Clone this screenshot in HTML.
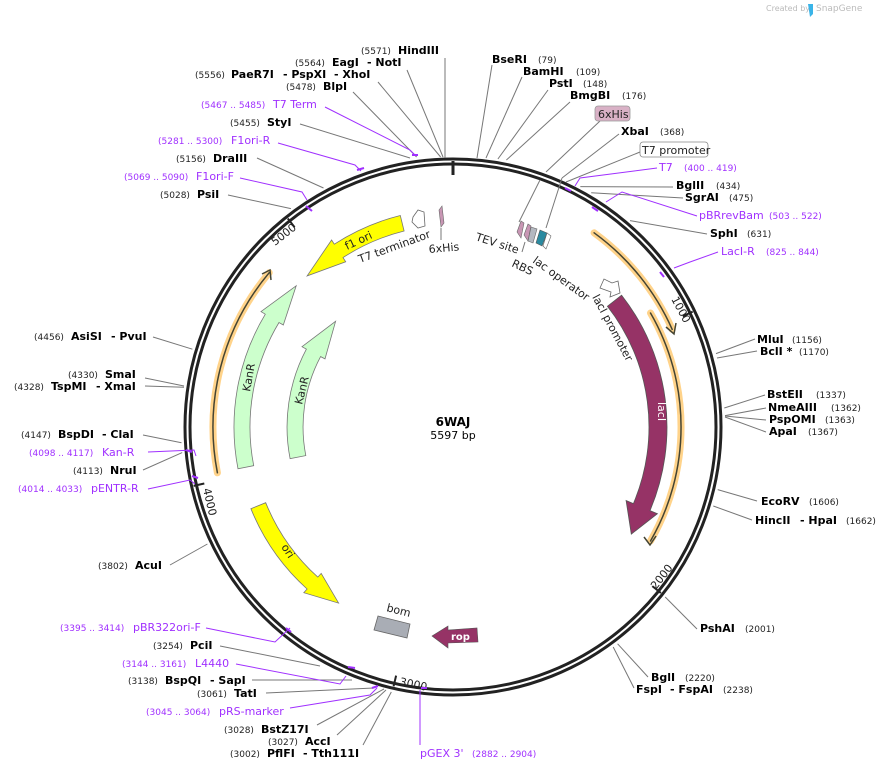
<!DOCTYPE html>
<html><head><meta charset="utf-8"><style>
html,body{margin:0;padding:0;background:#fff}
svg{display:block}
text{font-family:"DejaVu Sans","Liberation Sans",sans-serif}
.b{font-weight:bold;font-size:11px;fill:#000}
.n{font-size:9px;fill:#222}
.p{font-size:11px;fill:#a030ff}
.pn{font-size:9px;fill:#a030ff}
.f{font-size:11px;fill:#222}
.g{stroke:#777;stroke-width:1;fill:none}
.pl{stroke:#a030ff;stroke-width:1;fill:none}
</style></head><body>
<svg width="892" height="770" viewBox="0 0 892 770" xmlns="http://www.w3.org/2000/svg">
<text x="766" y="11" style="font-size:8px;fill:#bbb">Created by</text>
<path d="M808 4 h5 v10 l-3 3 z" fill="#3ab4e8"/>
<text x="816" y="11" style="font-size:9px;fill:#bbb">SnapGene</text>

<circle cx="453" cy="427" r="268" fill="none" stroke="#222" stroke-width="3"/>
<circle cx="453" cy="427" r="263" fill="none" stroke="#222" stroke-width="3"/>
<line x1="453" y1="161" x2="453" y2="175" stroke="#222" stroke-width="3"/>

<g stroke="#222" stroke-width="2">
<line x1="692.7" y1="311.6" x2="682.8" y2="316.3"/>
<line x1="660.9" y1="593" x2="652.3" y2="586.1"/>
<line x1="393.6" y1="686.3" x2="396.1" y2="675.6"/>
<line x1="193.6" y1="485.9" x2="204.3" y2="483.5"/>
<line x1="287.8" y1="218.5" x2="294.6" y2="227.2"/>
</g>
<text class="f" transform="translate(671,299) rotate(62)">1000</text>
<text class="f" transform="translate(656,590) rotate(-52)">2000</text>
<text class="f" transform="translate(399,685) rotate(12)">3000</text>
<text class="f" transform="translate(203,489) rotate(77)">4000</text>
<text class="f" transform="translate(275,246) rotate(-38)">5000</text>

<g fill="none" stroke-linecap="round">
<path d="M594.1 232.8 A240 240 0 0 1 672.2 329.4" stroke="#ffd38a" stroke-width="7"/>
<path d="M594.1 232.8 A240 240 0 0 1 672.2 329.4" stroke="#443" stroke-width="1.5"/>
<path d="M650.5 313 A228 228 0 0 1 650.5 541" stroke="#ffd38a" stroke-width="7"/>
<path d="M650.5 313 A228 228 0 0 1 650.5 541" stroke="#443" stroke-width="1.5"/>
<path d="M217.4 472.8 A240 240 0 0 1 269.2 272.7" stroke="#ffd38a" stroke-width="7"/>
<path d="M217.4 472.8 A240 240 0 0 1 269.2 272.7" stroke="#443" stroke-width="1.5"/>
</g>
<path d="M666 327 L674 334 L676 323" fill="none" stroke="#443" stroke-width="1.5"/>
<path d="M644 537 L650 545 L656 536" fill="none" stroke="#443" stroke-width="1.5"/>
<path d="M262 274 L270 270 L271 280" fill="none" stroke="#443" stroke-width="1.5"/>

<path d="M621.6 295.2 A214 214 0 0 1 650 510.6 L657.4 513.7 L631.3 534.1 L626.1 500.5 L633.4 503.6 A196 196 0 0 0 607.4 306.3 Z" fill="#963366" stroke="#555" stroke-width="0.8"/>
<text transform="translate(658,402) rotate(90)" style="font-size:11px;fill:#fff">lacI</text>
<path d="M600 288 L604 279 L612 283 L618 281 L620 293 L610 297 L611 292 Z" fill="#fff" stroke="#666" stroke-width="0.8"/>
<text class="f" transform="translate(592,297) rotate(62)">lacI promoter</text>

<path d="M238 468.8 A219 219 0 0 1 265.3 314.2 L261 311.6 L296.2 285.8 L283.3 325 L279 322.5 A203 203 0 0 0 253.7 465.7 Z" fill="#ccffcc" stroke="#777" stroke-width="0.8"/>
<text class="f" transform="translate(250,392) rotate(-80)">KanR</text>
<path d="M290.1 458.7 A166 166 0 0 1 306.4 349.1 L302 346.7 L335.6 321.3 L325 358.9 L320.6 356.6 A150 150 0 0 0 305.8 455.6 Z" fill="#ccffcc" stroke="#777" stroke-width="0.8"/>
<text class="f" transform="translate(302,405) rotate(-76)">KanR</text>

<path d="M400.3 215.5 A218 218 0 0 0 334.3 244.2 L331.6 240 L307.1 275.9 L345.7 261.8 L343 257.6 A202 202 0 0 1 404.1 231 Z" fill="#ffff00" stroke="#777" stroke-width="0.8"/>
<text class="f" transform="translate(347,250) rotate(-25)">f1 ori</text>
<text class="f" transform="translate(360,263) rotate(-20)">T7 terminator</text>
<path d="M250.9 508.7 A218 218 0 0 0 307.1 589 L303.8 592.7 L338.6 603.1 L321.2 573.4 L317.8 577.1 A202 202 0 0 1 265.7 502.7 Z" fill="#ffff00" stroke="#777" stroke-width="0.8"/>
<text class="f" transform="translate(281,547) rotate(57)">ori</text>

<polygon points="378,616 410,624 407,638 374,630" fill="#a9adb5" stroke="#666" stroke-width="0.8"/>
<text class="f" transform="translate(386,611) rotate(14)">bom</text>
<polygon points="432,636 448,626 448,630 477,628 478,642 448,643 448,648" fill="#963366" stroke="#555" stroke-width="0.6"/>
<text x="451" y="640" style="font-size:10px;font-weight:bold;fill:#fff">rop</text>

<path d="M413 217 L418 210 L424 212 L425 226 L418 228 L412 222 Z" fill="#fff" stroke="#666" stroke-width="0.8"/>
<path d="M439 210 L442 206 L444 223 L441 227 Z" fill="#c896b4" stroke="#666" stroke-width="0.6"/>
<line x1="441" y1="228" x2="441" y2="240" class="g"/>
<text class="f" transform="translate(429,253) rotate(-5)">6xHis</text>
<path d="M517 232 L521 221 L524 223 L521 238 Z" fill="#c896b4" stroke="#666" stroke-width="0.6"/>
<path d="M524 235 L528 224 L531 226 L528 241 Z" fill="#c896b4" stroke="#666" stroke-width="0.6"/>
<polygon points="531,227 537,229 533,243 528,241" fill="#b4b8c0" stroke="#666" stroke-width="0.6"/>
<polygon points="540,230 547,233 542,246 536,243" fill="#2a8aa0" stroke="#555" stroke-width="0.6"/>
<polygon points="547,233 551,236 546,249 543,246" fill="#fff" stroke="#666" stroke-width="0.6"/>
<line x1="525" y1="242" x2="522" y2="252" class="g"/>
<text class="f" transform="translate(475,240) rotate(18)">TEV site</text>
<text class="f" transform="translate(511,266) rotate(25)">RBS</text>
<text class="f" transform="translate(532,262) rotate(36)">lac operator</text>

<text x="453" y="426" text-anchor="middle" style="font-size:12px;font-weight:bold">6WAJ</text>
<text x="453" y="439" text-anchor="middle" style="font-size:11px">5597 bp</text>

<g class="g">
<line x1="445" y1="58" x2="445" y2="158"/>
<line x1="407" y1="70" x2="443" y2="157"/>
<line x1="378" y1="82" x2="440.6" y2="157"/>
<line x1="353" y1="92" x2="416.6" y2="157"/>
<line x1="300" y1="124" x2="410" y2="158"/>
<line x1="257" y1="158" x2="323.5" y2="188"/>
<line x1="228" y1="195" x2="290.9" y2="208.6"/>
<line x1="492" y1="65" x2="477" y2="158"/>
<line x1="522" y1="77" x2="486" y2="158"/>
<line x1="548" y1="90" x2="497.9" y2="159"/>
<line x1="570" y1="102" x2="506.4" y2="160"/>
<line x1="600" y1="121" x2="546" y2="172"/>
<line x1="540" y1="180" x2="519" y2="222"/>
<line x1="619" y1="134" x2="562" y2="178"/>
<line x1="562" y1="178" x2="546" y2="228"/>
<line x1="640" y1="152" x2="566" y2="182"/>
<line x1="673" y1="187" x2="580.3" y2="186.6"/>
<line x1="683" y1="198" x2="591.2" y2="192.8"/>
<line x1="707" y1="234" x2="630" y2="220.6"/>
<line x1="755" y1="339" x2="716" y2="353.6"/>
<line x1="757" y1="351" x2="717" y2="358"/>
<line x1="765" y1="395" x2="724.3" y2="408"/>
<line x1="766" y1="408" x2="725" y2="415.6"/>
<line x1="766" y1="420" x2="725" y2="416"/>
<line x1="766" y1="432" x2="725" y2="417"/>
<line x1="757" y1="501" x2="717.7" y2="489.6"/>
<line x1="752" y1="520" x2="713.3" y2="506"/>
<line x1="697" y1="629" x2="665.2" y2="597"/>
<line x1="648" y1="677" x2="617.6" y2="643.8"/>
<line x1="634" y1="688" x2="613.2" y2="647"/>
<line x1="363" y1="745" x2="391.3" y2="692"/>
<line x1="337" y1="735" x2="386" y2="690"/>
<line x1="317" y1="725" x2="384" y2="689"/>
<line x1="266" y1="693" x2="373.8" y2="688"/>
<line x1="252" y1="680" x2="352" y2="680"/>
<line x1="220" y1="646" x2="320" y2="666"/>
<line x1="170" y1="565" x2="207.4" y2="544"/>
<line x1="143" y1="470" x2="182.2" y2="452.6"/>
<line x1="143" y1="435" x2="181.5" y2="442.7"/>
<line x1="145" y1="386" x2="184" y2="387.3"/>
<line x1="145" y1="378" x2="184" y2="386"/>
<line x1="153" y1="337" x2="192.4" y2="349.2"/>
</g>
<g class="pl">
<polyline points="325,107 410,150 416,156"/>
<polyline points="278,143 355,165 361,171"/>
<polyline points="240,178 302,192 307,200"/>
<polyline points="657,168 580,178 575,186"/>
<polyline points="697,216 622,192 606,202"/>
<polyline points="718,252 690,262 674,268"/>
<line x1="420" y1="745" x2="420" y2="690"/>
<polyline points="290,708 370,695 377,688"/>
<polyline points="236,664 340,684 346,676"/>
<polyline points="206,628 275,642 290,628"/>
<polyline points="148,489 190,480 195,484"/>
<polyline points="148,452 194,450 196,456"/>
</g>
<g stroke="#a030ff" stroke-width="2">
<line x1="412" y1="155" x2="418" y2="155"/>
<line x1="357" y1="170" x2="364" y2="168"/>
<line x1="306" y1="206" x2="312" y2="211"/>
<line x1="565" y1="188" x2="571" y2="191"/>
<line x1="592" y1="207" x2="598" y2="211"/>
<line x1="660" y1="272" x2="664" y2="277"/>
<line x1="421" y1="688" x2="427" y2="688"/>
<line x1="372" y1="688" x2="378" y2="686"/>
<line x1="348" y1="667" x2="355" y2="668"/>
<line x1="286" y1="628" x2="291" y2="632"/>
<line x1="192" y1="476" x2="198" y2="478"/>
<line x1="186" y1="450" x2="192" y2="452"/>
</g>

<text class="n" x="361" y="54">(5571)</text><text class="b" x="398" y="54">HindIII</text>
<text class="n" x="295" y="66">(5564)</text><text class="b" x="332" y="66">EagI</text><text class="b" x="367" y="66">- NotI</text>
<text class="n" x="195" y="78">(5556)</text><text class="b" x="231" y="78">PaeR7I</text><text class="b" x="283" y="78">- PspXI</text><text class="b" x="334" y="78">- XhoI</text>
<text class="n" x="286" y="90">(5478)</text><text class="b" x="323" y="90">BlpI</text>
<text class="pn" x="201" y="108">(5467 .. 5485)</text><text class="p" x="273" y="108">T7 Term</text>
<text class="n" x="230" y="126">(5455)</text><text class="b" x="267" y="126">StyI</text>
<text class="pn" x="158" y="144">(5281 .. 5300)</text><text class="p" x="231" y="144">F1ori-R</text>
<text class="n" x="176" y="162">(5156)</text><text class="b" x="213" y="162">DraIII</text>
<text class="pn" x="124" y="180">(5069 .. 5090)</text><text class="p" x="196" y="180">F1ori-F</text>
<text class="n" x="160" y="198">(5028)</text><text class="b" x="197" y="198">PsiI</text>

<text class="b" x="492" y="63">BseRI</text><text class="n" x="538" y="63">(79)</text>
<text class="b" x="523" y="75">BamHI</text><text class="n" x="576" y="75">(109)</text>
<text class="b" x="549" y="87">PstI</text><text class="n" x="583" y="87">(148)</text>
<text class="b" x="570" y="99">BmgBI</text><text class="n" x="622" y="99">(176)</text>
<rect x="595" y="106" width="35" height="15" rx="3" fill="#d9b1c6" stroke="#999" stroke-width="0.8"/>
<text class="f" x="598" y="118">6xHis</text>
<text class="b" x="621" y="135">XbaI</text><text class="n" x="660" y="135">(368)</text>
<rect x="640" y="142" width="68" height="15" rx="3" fill="#fff" stroke="#888" stroke-width="0.8"/>
<text class="f" x="642" y="154">T7 promoter</text>
<text class="p" x="659" y="171">T7</text><text class="pn" x="684" y="171">(400 .. 419)</text>
<text class="b" x="676" y="189">BglII</text><text class="n" x="716" y="189">(434)</text>
<text class="b" x="685" y="201">SgrAI</text><text class="n" x="729" y="201">(475)</text>
<text class="p" x="699" y="219">pBRrevBam</text><text class="pn" x="769" y="219">(503 .. 522)</text>
<text class="b" x="710" y="237">SphI</text><text class="n" x="747" y="237">(631)</text>
<text class="p" x="721" y="255">LacI-R</text><text class="pn" x="766" y="255">(825 .. 844)</text>

<text class="b" x="757" y="343">MluI</text><text class="n" x="792" y="343">(1156)</text>
<text class="b" x="760" y="355">BclI *</text><text class="n" x="799" y="355">(1170)</text>
<text class="b" x="767" y="398">BstEII</text><text class="n" x="816" y="398">(1337)</text>
<text class="b" x="768" y="411">NmeAIII</text><text class="n" x="831" y="411">(1362)</text>
<text class="b" x="769" y="423">PspOMI</text><text class="n" x="825" y="423">(1363)</text>
<text class="b" x="769" y="435">ApaI</text><text class="n" x="808" y="435">(1367)</text>
<text class="b" x="761" y="505">EcoRV</text><text class="n" x="809" y="505">(1606)</text>
<text class="b" x="755" y="524">HincII</text><text class="b" x="800" y="524">- HpaI</text><text class="n" x="846" y="524">(1662)</text>
<text class="b" x="700" y="632">PshAI</text><text class="n" x="745" y="632">(2001)</text>
<text class="b" x="651" y="681">BglI</text><text class="n" x="685" y="681">(2220)</text>
<text class="b" x="636" y="693">FspI</text><text class="b" x="670" y="693">- FspAI</text><text class="n" x="723" y="693">(2238)</text>

<text class="p" x="420" y="757">pGEX 3'</text><text class="pn" x="472" y="757">(2882 .. 2904)</text>
<text class="n" x="230" y="757">(3002)</text><text class="b" x="267" y="757">PflFI</text><text class="b" x="303" y="757">- Tth111I</text>
<text class="n" x="268" y="745">(3027)</text><text class="b" x="305" y="745">AccI</text>
<text class="n" x="224" y="733">(3028)</text><text class="b" x="261" y="733">BstZ17I</text>
<text class="pn" x="146" y="715">(3045 .. 3064)</text><text class="p" x="219" y="715">pRS-marker</text>
<text class="n" x="197" y="697">(3061)</text><text class="b" x="234" y="697">TatI</text>
<text class="n" x="128" y="684">(3138)</text><text class="b" x="165" y="684">BspQI</text><text class="b" x="210" y="684">- SapI</text>
<text class="pn" x="122" y="667">(3144 .. 3161)</text><text class="p" x="195" y="667">L4440</text>
<text class="n" x="153" y="649">(3254)</text><text class="b" x="190" y="649">PciI</text>
<text class="pn" x="60" y="631">(3395 .. 3414)</text><text class="p" x="133" y="631">pBR322ori-F</text>

<text class="n" x="98" y="569">(3802)</text><text class="b" x="135" y="569">AcuI</text>
<text class="pn" x="18" y="492">(4014 .. 4033)</text><text class="p" x="91" y="492">pENTR-R</text>
<text class="n" x="73" y="474">(4113)</text><text class="b" x="110" y="474">NruI</text>
<text class="pn" x="29" y="456">(4098 .. 4117)</text><text class="p" x="102" y="456">Kan-R</text>
<text class="n" x="21" y="438">(4147)</text><text class="b" x="58" y="438">BspDI</text><text class="b" x="102" y="438">- ClaI</text>
<text class="n" x="14" y="390">(4328)</text><text class="b" x="51" y="390">TspMI</text><text class="b" x="96" y="390">- XmaI</text>
<text class="n" x="68" y="378">(4330)</text><text class="b" x="105" y="378">SmaI</text>
<text class="n" x="34" y="340">(4456)</text><text class="b" x="71" y="340">AsiSI</text><text class="b" x="111" y="340">- PvuI</text>
</svg>
</body></html>
